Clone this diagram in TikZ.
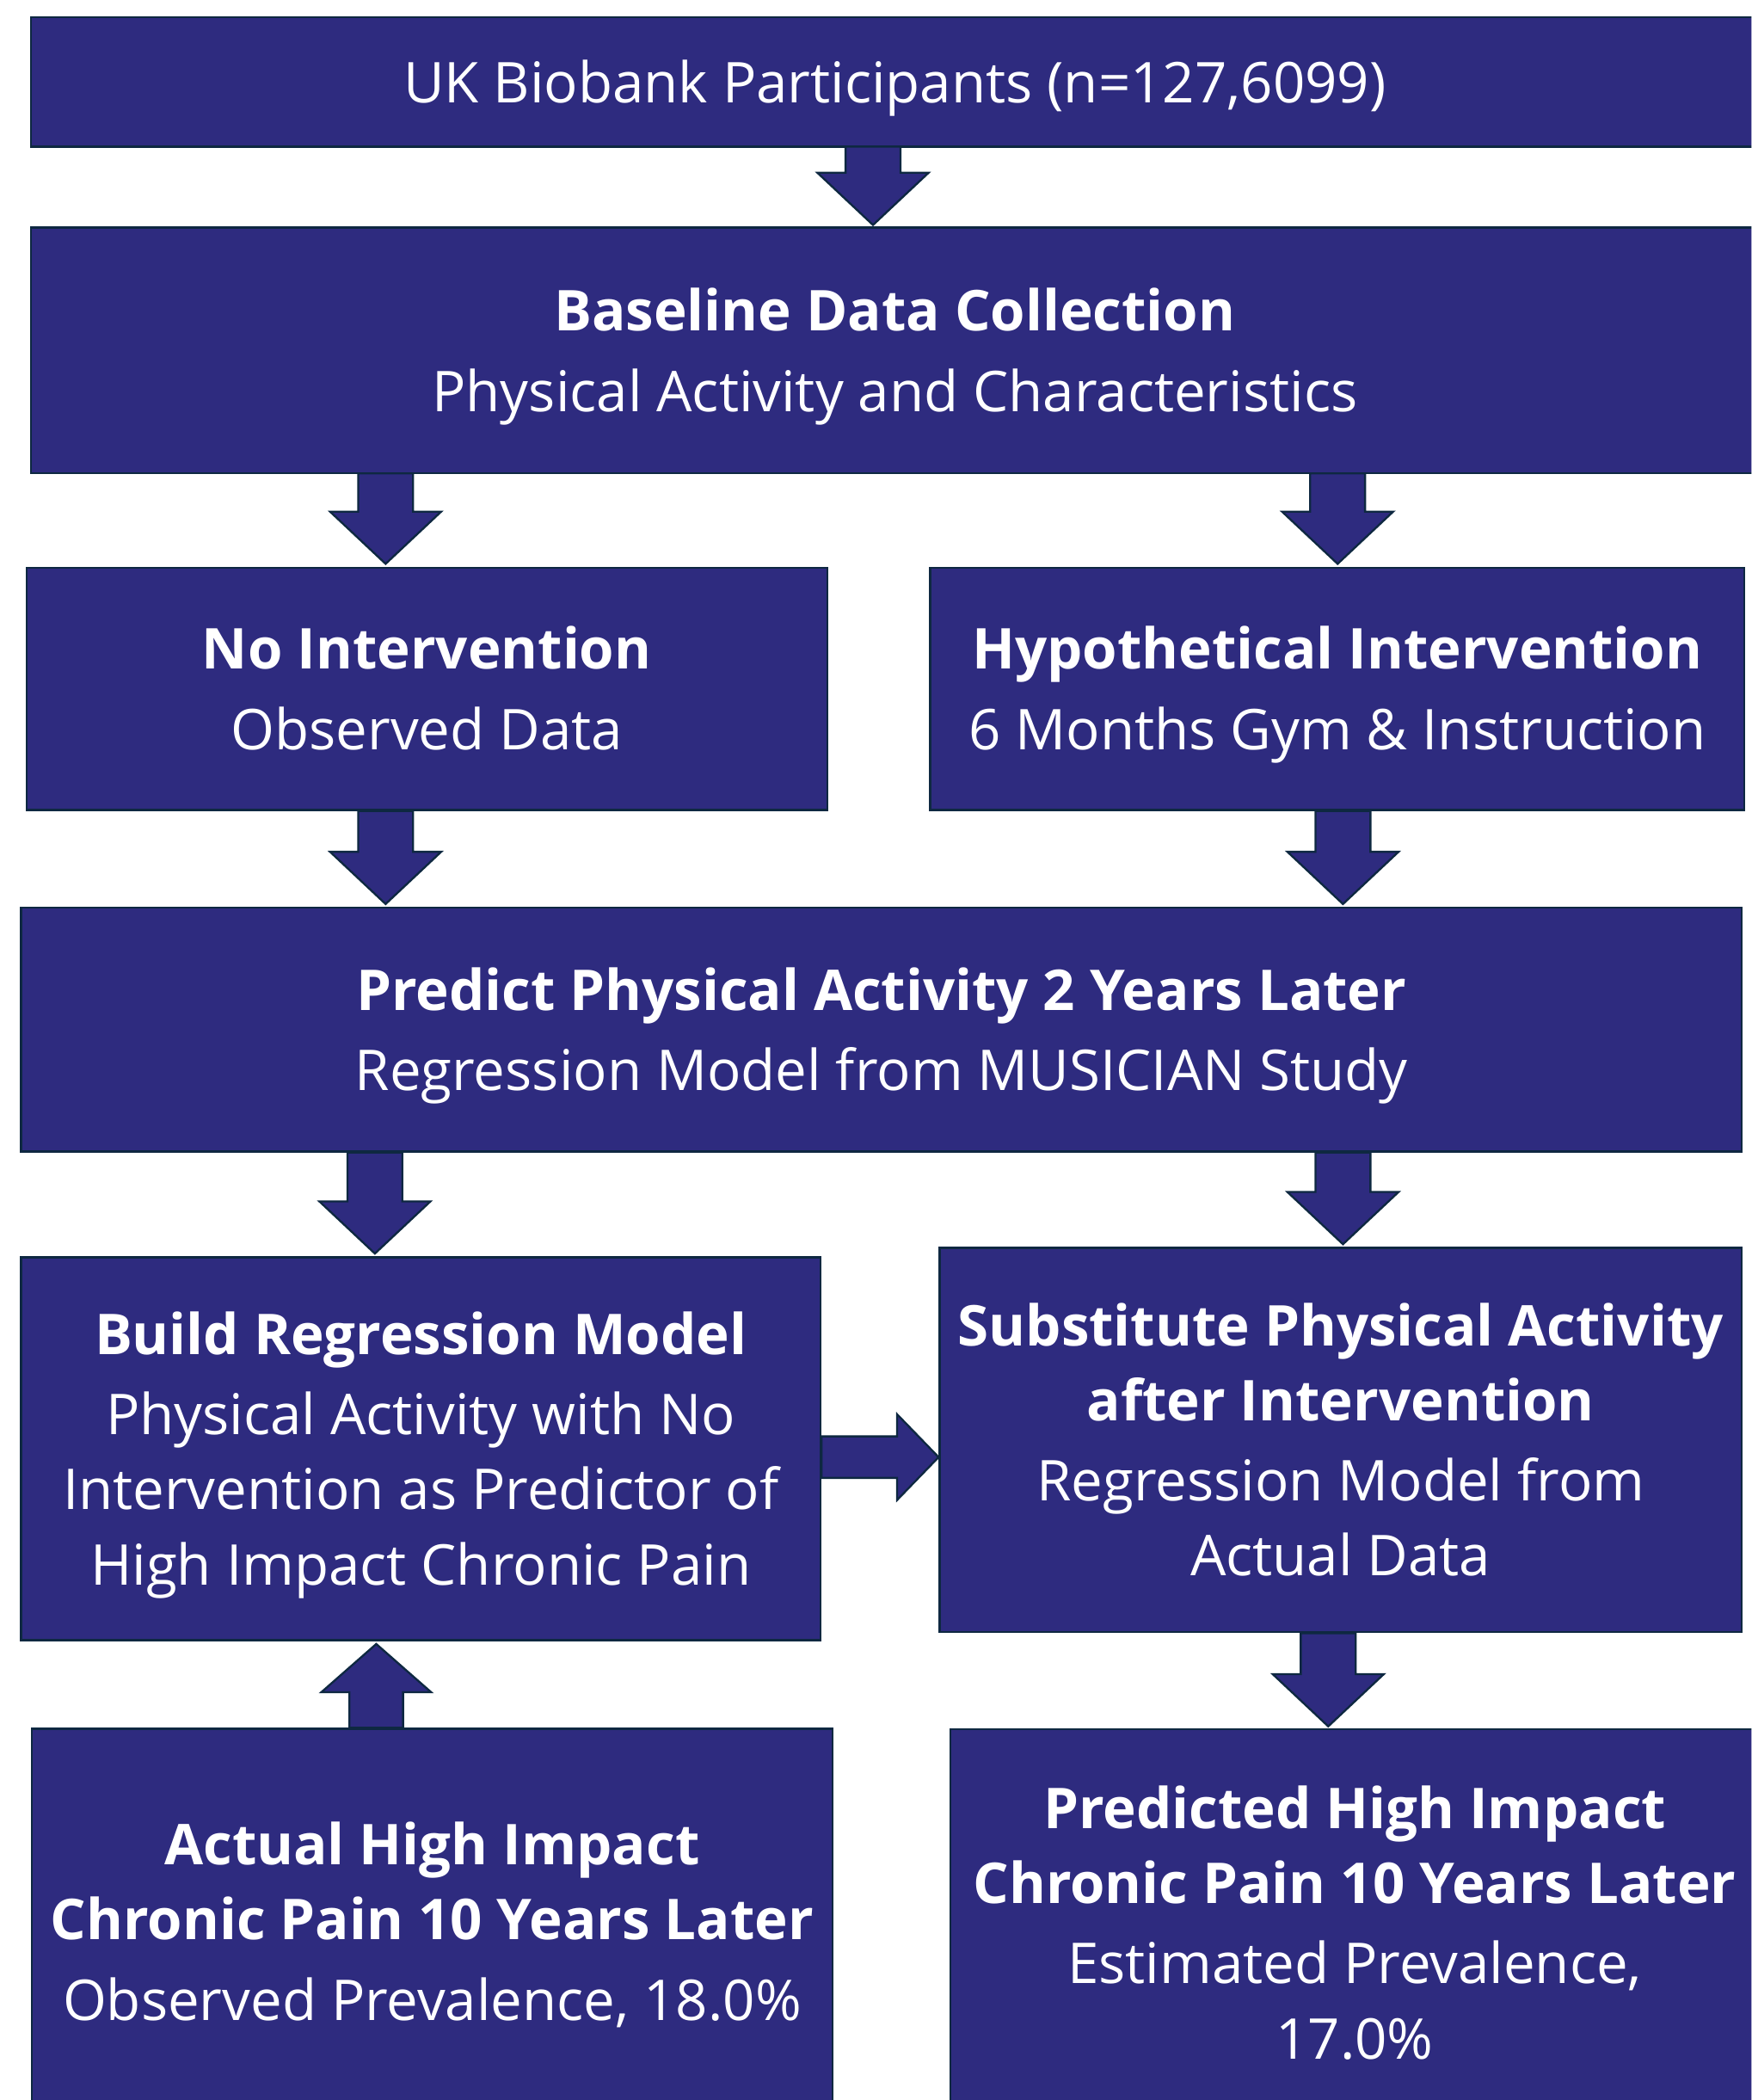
\documentclass[tikz,border=0pt]{standalone}
\usepackage{fontspec}
\setmainfont{Open Sans}
\usetikzlibrary{calc}
\definecolor{boxfill}{HTML}{2E2B7F}
\definecolor{boxline}{HTML}{0E2841}

% block arrows between boxes: x position, source node, target node
\newcommand\downblock[3]{%
  \draw[blockarrow] let \p1=(#2.south), \p2=(#3.north) in
    (#1pt-20.5pt,\y1) -- (#1pt+20.5pt,\y1) -- (#1pt+20.5pt,\y2+41pt)
    -- (#1pt+41.5pt,\y2+41pt) -- (#1pt,\y2+2pt) -- (#1pt-41.5pt,\y2+41pt)
    -- (#1pt-20.5pt,\y2+41pt) -- cycle;}
\newcommand\upblock[3]{%
  \draw[blockarrow] let \p1=(#2.north), \p2=(#3.south) in
    (#1pt-20pt,\y1) -- (#1pt+20pt,\y1) -- (#1pt+20pt,\y2-38pt)
    -- (#1pt+41pt,\y2-38pt) -- (#1pt,\y2-2pt) -- (#1pt-41pt,\y2-38pt)
    -- (#1pt-20pt,\y2-38pt) -- cycle;}
\newcommand\rightblock[3]{%
  \draw[blockarrow] let \p1=(#2.east), \p2=(#3.west) in
    (\x1,-#1pt+15.5pt) -- (\x1,-#1pt-15.5pt) -- (\x2-31pt,-#1pt-15.5pt)
    -- (\x2-31pt,-#1pt-32pt) -- (\x2,-#1pt) -- (\x2-31pt,-#1pt+32pt)
    -- (\x2-31pt,-#1pt+15.5pt) -- cycle;}
% border of a box that runs on past the right edge of the page
\newcommand\openright[1]{%
  \draw[edgeline] ([xshift=30pt]#1.north east) -- (#1.north west)
    -- (#1.south west) -- ([xshift=30pt]#1.south east);}

% fixed line strut so every box centres its lines the same way
\newcommand\linestrut{\rule[-12.5pt]{0pt}{56pt}}
\tikzset{
  box/.style={draw=boxline, fill=boxfill, line width=1.5pt, text=white,
    align=center, inner sep=0pt, anchor=north west,
    font=\fontsize{42}{56}\selectfont},
  single/.style={execute at begin node=\linestrut, execute at end node=\linestrut},
  edgeline/.style={draw=boxline, line width=1.5pt},
  blockarrow/.style={draw=boxline, fill=boxfill, line width=1.5pt, line join=miter},
}
\newcommand\hd[1]{\textbf{#1}}
% first and last lines of a box of several lines
\newcommand\toph[1]{\linestrut\textbf{#1}}
\newcommand\lastl[1]{#1\linestrut}

\begin{document}
\begin{tikzpicture}[x=1pt, y=-1pt]
\useasboundingbox (0,0) rectangle (1308,1568);
\clip (0,0) rectangle (1308,1568);
\fill[white] (0,0) rectangle (1308,1568);

\node[box, single, draw=none, minimum width=1289, minimum height=95] (b1) at (23,13)
  {UK Biobank Participants (n=127,6099)};
\node[box, draw=none, minimum width=1289, minimum height=182] (b2) at (23,170)
  {\toph{Baseline Data Collection}\\[4pt]\lastl{Physical Activity and Characteristics}};
\node[box, minimum width=598, minimum height=181] (b3) at (19,423)
  {\toph{No Intervention}\\[4pt]\lastl{Observed Data}};
\node[box, minimum width=608, minimum height=181] (b4) at (694,423)
  {\toph{Hypothetical Intervention}\\[4pt]\lastl{6 Months Gym \& Instruction}};
\node[box, minimum width=1285, minimum height=182] (b5) at (15,677)
  {\toph{Predict Physical Activity 2 Years Later}\\[4pt]\lastl{Regression Model from MUSICIAN Study}};
\node[box, minimum width=597, minimum height=286] (b6) at (15,938)
  {\toph{Build Regression Model}\\[4pt]Physical Activity with No\\Intervention as Predictor of\\\lastl{High Impact Chronic Pain}};
\node[box, minimum width=599, minimum height=287] (b7) at (701,931)
  {\toph{Substitute Physical Activity}\\\hd{after Intervention}\\[4pt]Regression Model from\\\lastl{Actual Data}};
\node[box, minimum width=598, minimum height=288] (b8) at (23,1290)
  {\toph{Actual High Impact}\\\hd{Chronic Pain 10 Years Later}\\[4pt]\lastl{Observed Prevalence, 18.0\%}};
\node[box, draw=none, minimum width=602, minimum height=288] (b9) at (710,1291)
  {\toph{Predicted High Impact}\\\hd{Chronic Pain 10 Years Later}\\[4pt]Estimated Prevalence,\\\lastl{17.0\%}};
\openright{b1}
\openright{b2}
\openright{b9}

\downblock{652}{b1}{b2}
\downblock{288}{b2}{b3}
\downblock{999}{b2}{b4}
\downblock{288}{b3}{b5}
\downblock{1003}{b4}{b5}
\downblock{280}{b5}{b6}
\downblock{1003}{b5}{b7}
\downblock{992}{b7}{b9}
\upblock{281}{b8}{b6}
\rightblock{1088}{b6}{b7}
\end{tikzpicture}
\end{document}
